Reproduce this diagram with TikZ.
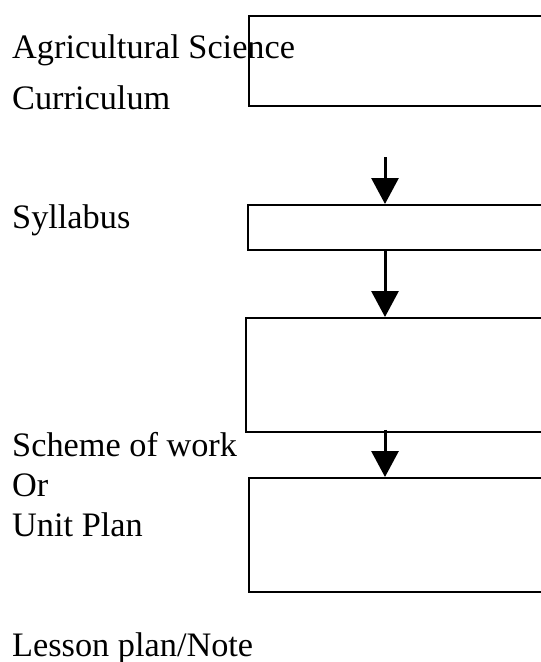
\documentclass[tikz,border=0pt]{standalone}
\usepackage{fontspec}
\setmainfont{Liberation Serif}
\usetikzlibrary{arrows.meta}
\begin{document}
\begin{tikzpicture}[x=1pt,y=-1pt,
  lbl/.style={anchor=base west,inner sep=0pt,font=\fontsize{34.3}{40}\selectfont},
  box/.style={draw=black,line width=1.8pt,anchor=north west,inner sep=0pt,minimum width=330pt},
  arr/.style={line width=3pt,-{Triangle[width=27pt,length=26pt]}}]
\useasboundingbox (0,0) rectangle (541,662);
\clip (0,0) rectangle (541,662);
% boxes
\node[box,minimum height=90pt] (b1) at (248,15) {};
\node[box,minimum height=45pt] (b2) at (247,204) {};
\node[box,minimum height=114pt] (b3) at (245,317) {};
\node[box,minimum height=114pt] (b4) at (248,477) {};
% labels
\node[lbl] (t1) at (12,58) {Agricultural Science};
\node[lbl] (t2) at (12,109) {Curriculum};
\node[lbl] (t3) at (12,228) {Syllabus};
\node[lbl] (t4) at (12,456) {Scheme of work};
\node[lbl] (t5) at (12,496) {Or};
\node[lbl] (t6) at (12,536) {Unit Plan};
\node[lbl] (t7) at (12,656) {Lesson plan/Note};
% arrows
\coordinate (ax) at (385,0);
\coordinate (a0) at (385,157);
\draw[arr] (a0) -- (ax |- b2.north);
\draw[arr] (ax |- b2.south) -- (ax |- b3.north);
\draw[arr] ([yshift=3pt]ax |- b3.south) -- (ax |- b4.north);
\end{tikzpicture}
\end{document}
